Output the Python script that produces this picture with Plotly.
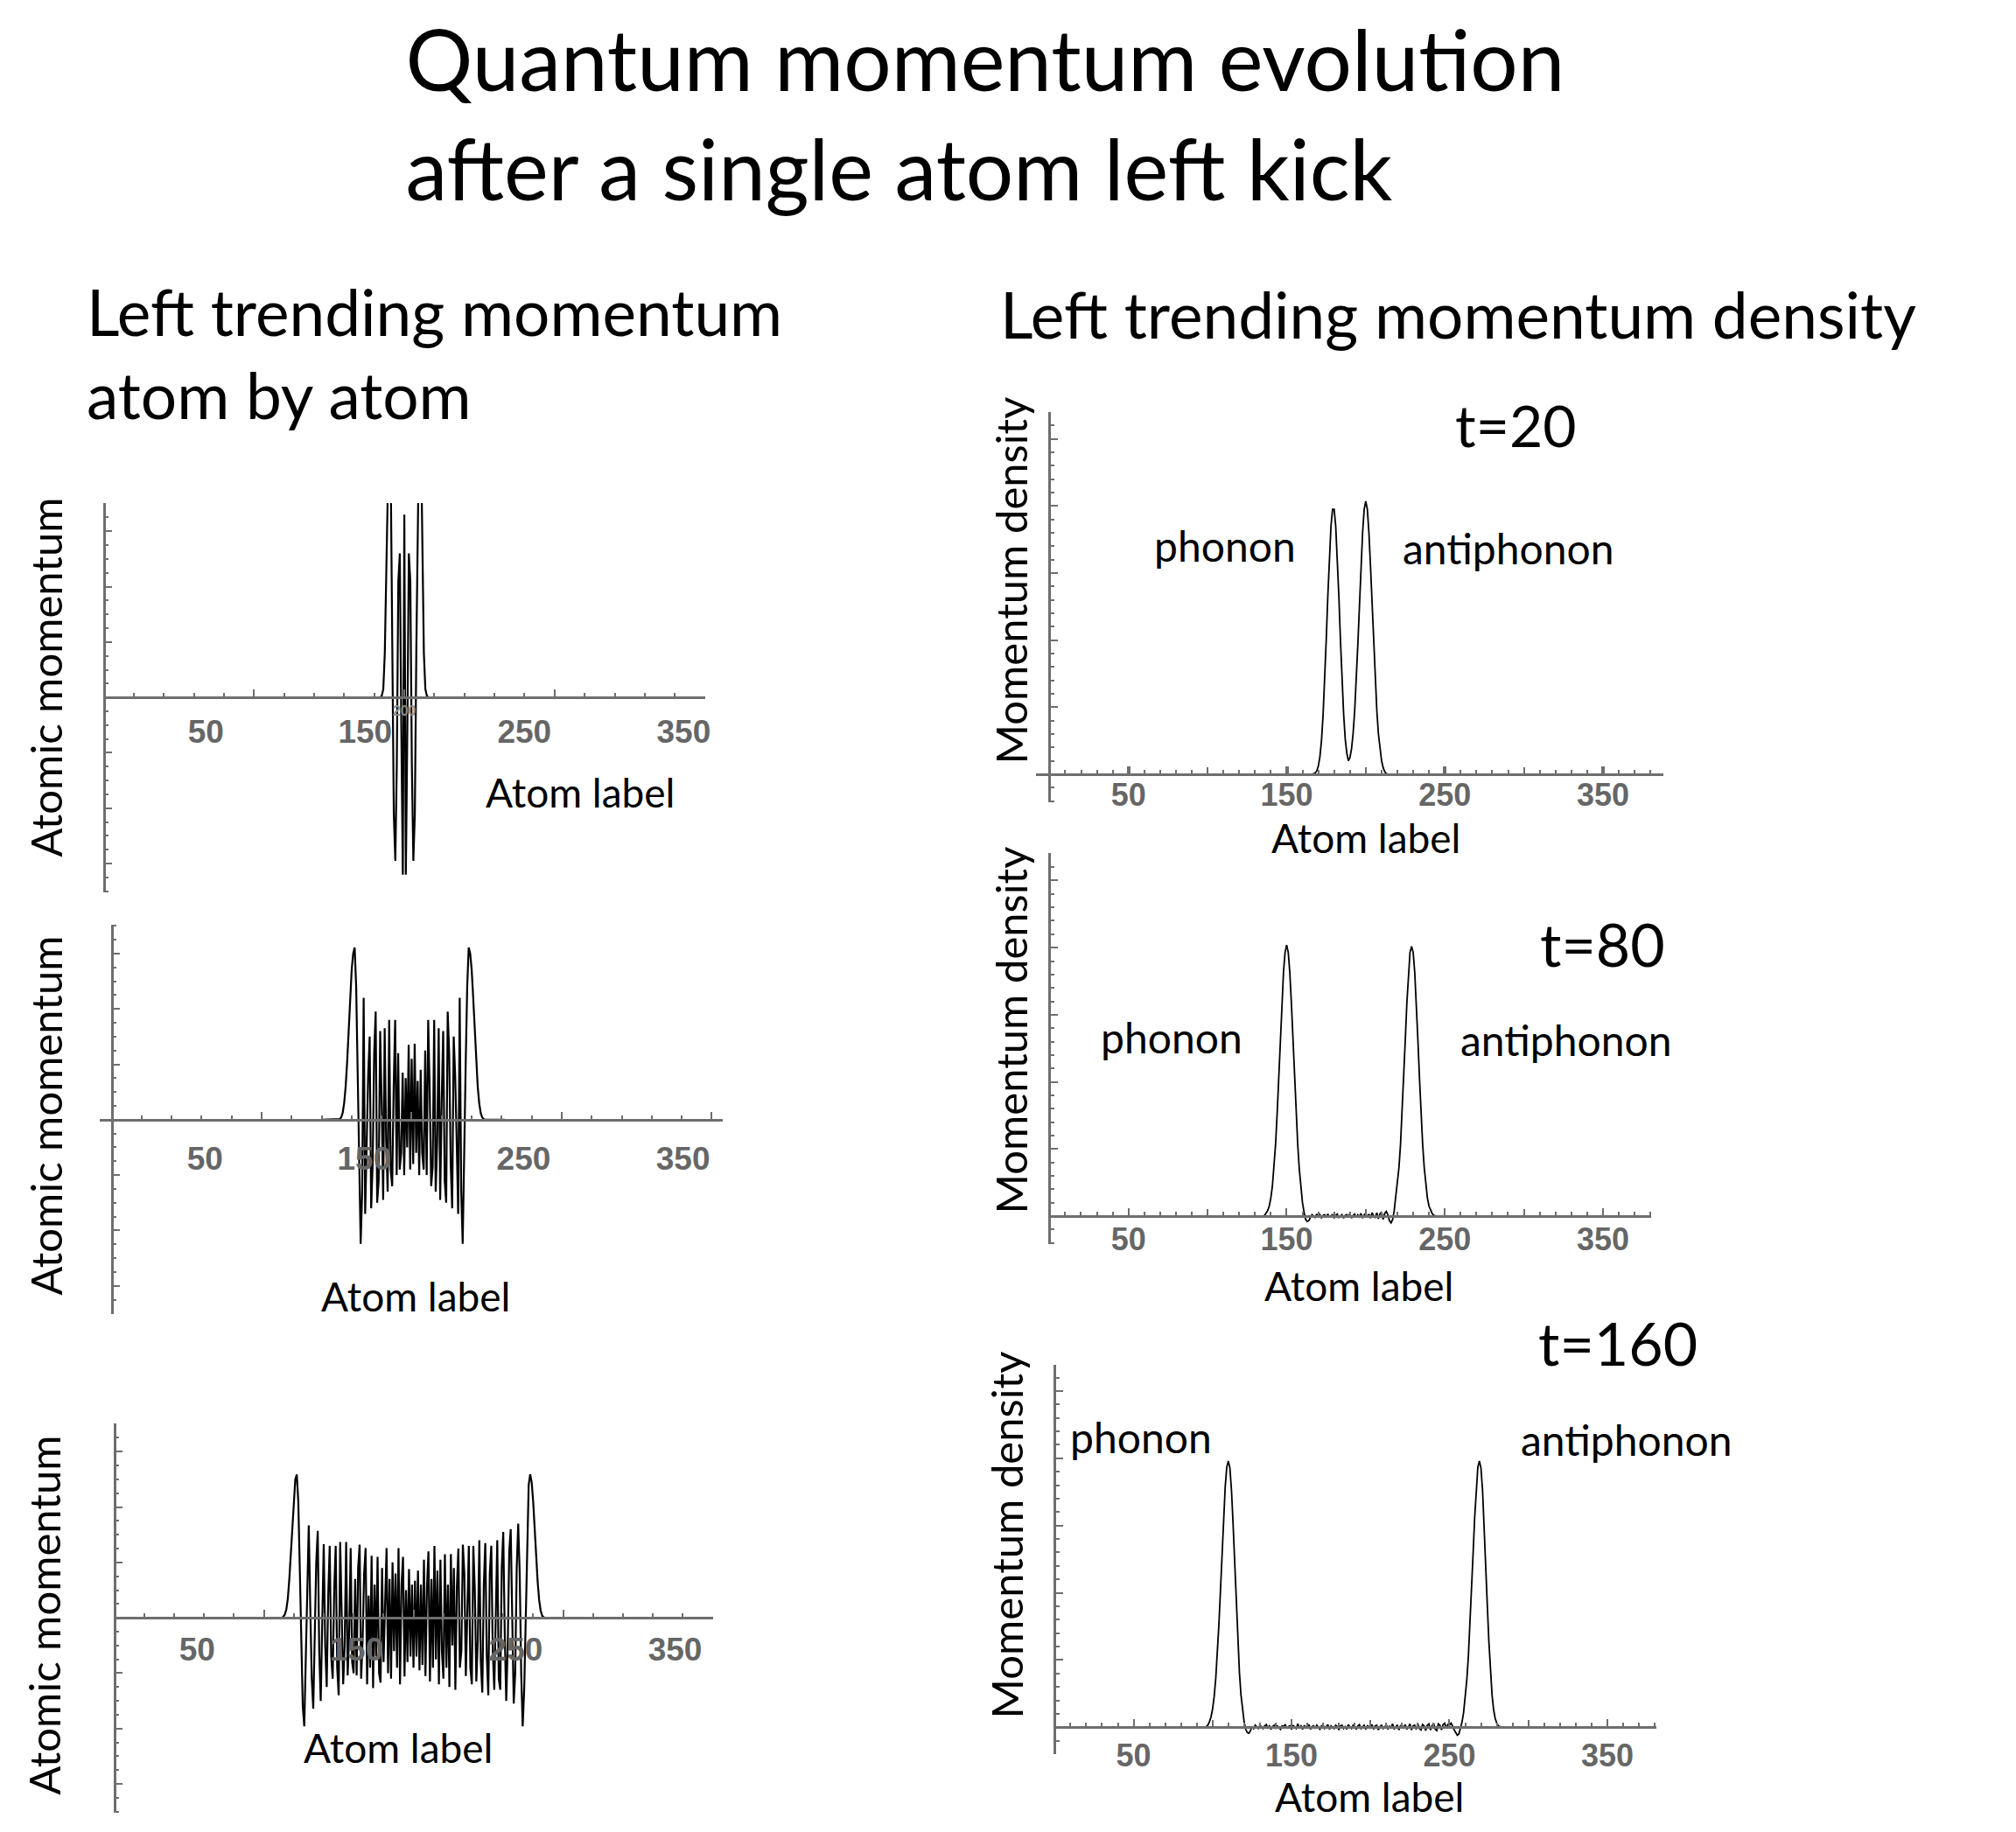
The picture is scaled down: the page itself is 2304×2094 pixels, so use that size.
import plotly.graph_objects as go

W, H = 2304, 2094

# ---------------- data ----------------
tick_values = [50, 150, 250, 350]
tick_labels = ["50", "150", "250", "350"]
chain_first, chain_last = 0, 400

# Left column: atomic momentum atom by atom (first atom index of the listed stretch + values)
momentum_t20_first_atom = 184
momentum_t20 = [0.0, 0.03, 0.15, 0.8, 2.6, 4.8, 5.2, 3.9, 0.9, -2.1,
                -2.95, -1.2, 2.1, 2.6, -0.6, -3.2, 3.3, -3.2, -0.6, 2.6,
                2.1, -1.2, -2.95, -2.1, 0.9, 3.9, 5.2, 4.8, 2.6, 0.8,
                0.15, 0.03, 0.0]

momentum_t80_first_atom = 150
momentum_t80 = [0.0, 0.0, 0.01, 0.04, 0.12, 0.3, 0.6, 1.05, 1.6, 2.2,
                2.7, 3.0, 3.11, 2.4, 1.0, -0.9, -2.24, -1.3, 2.2, -1.7,
                -0.4, 0.8, 1.5, -1.6, -0.8, 1.2, 1.95, -1.5, -1.1, 1.6,
                0.3, -1.45, 1.65, -0.4, -1.3, 1.8, -0.9, -1.2, 0.6, 1.8,
                -1.0, 1.2, -0.9, -0.6, 0.85, -1.0, 0.75, -0.5, 1.35, -0.9,
                1.1,
                -0.8, 1.37, -0.6, 0.7, -1.0, 0.9, -0.6, -0.9, 1.25, -1.0,
                1.8, 0.55, -1.2, -0.85, 1.8, -1.3, -0.4, 1.65, -1.45, 0.35,
                1.6, -1.1, -1.5, 1.95, 1.2, -0.8, -1.6, 1.5, 0.8, -0.4,
                -1.7, 2.2, -1.3, -2.24, -0.9, 1.0, 2.4, 3.11, 3.0, 2.7,
                2.2, 1.6, 1.05, 0.6, 0.3, 0.12, 0.04, 0.01, 0.0, 0.0]

momentum_t160_first_atom = 110
momentum_t160 = [0.0, 0.0, 0.0, 0.02, 0.06, 0.15, 0.35, 0.7, 1.15, 1.7,
                 2.2, 2.5, 2.59, 2.1, 0.9, -0.6, -1.6, -1.96, -0.9, 0.6,
                 1.67, 0.2, -1.1, -1.64, -0.3, 1.0, 1.57, -0.6, -1.5, 0.2,
                 1.33, -0.5, -1.25, 0.4, 1.3, -0.7, -1.1, 0.5, 1.3, -0.9,
                 -1.4, 1.37, 0.3, -1.2, -0.5, 1.37, -1.04, -0.3, 1.26, -0.8,
                 -1.0, 0.7, -1.04, 0.9, 1.32, -1.1, -0.4, 0.8, 1.26, -1.2,
                 0.4, -0.9, 1.12, -1.27, 0.6, -0.7, 1.1, -1.0, -1.17, 0.9,
                 -0.8, 0.5, 1.26, -1.0, 0.7, -1.1, 1.0, -0.6, 0.8, -0.9,
                 1.26, -1.2, 0.6, 1.1, -1.06, 0.5, -0.8, 0.88, -0.7, 0.6,
                 -0.9, 0.67, -0.7, 0.85, -0.95, 0.6, -0.85, 1.05, -1.05, 0.55,
                 1.2, -1.15, 0.7, -0.9, 1.3, -0.75, 0.85, -1.2, 1.05, -0.6,
                 -1.1, 1.15, -0.9, 0.6, -1.25, 1.15, -0.5, 0.9, -1.3, 0.55,
                 1.25, -0.9, -0.6, 1.32, 0.8, -1.05, 0.4, 1.3, -0.9, -1.2,
                 1.3, 0.5, -1.15, -0.4, 1.4, -0.8, -1.35, 0.6, 1.35, -0.7,
                 -1.4, 0.8, 1.3, -0.6, -1.3, 0.4, 1.4, -1.1, -1.3, 0.9,
                 1.55, -0.3, -1.5, -0.5, 1.2, 1.6, -0.4, -1.55, -1.0, 0.9,
                 1.7, 0.8, -1.0, -1.96, -1.3, 0.1, 1.5, 2.4, 2.59, 2.45,
                 2.1, 1.6, 1.1, 0.65, 0.32, 0.13, 0.04, 0.01, 0.0, 0.0, 0.0]

# Right column: momentum density
density_t20_first_atom = 165
density_t20 = [0.0, 0.0, 0.01, 0.02, 0.05, 0.12, 0.26, 0.5, 0.88, 1.38,
               2.0, 2.65, 3.25, 3.7, 3.95, 3.95, 3.7, 3.25, 2.65, 2.0,
               1.38, 0.9, 0.53, 0.32, 0.2, 0.25, 0.38, 0.61, 0.95, 1.4,
               1.94, 2.5, 3.1, 3.6, 3.95, 4.07, 3.95, 3.6, 3.1, 2.5,
               1.94, 1.4, 0.95, 0.6, 0.36, 0.2, 0.1, 0.04, 0.01, 0.0, 0.0]

density_t80_first_atom = 134
density_t80 = [0.0, 0.0, 0.01, 0.04, 0.08, 0.15, 0.27, 0.45, 0.72, 1.07,
               1.53, 2.05, 2.62, 3.17, 3.63, 3.93, 4.04, 3.93, 3.63, 3.17,
               2.62, 2.05, 1.53, 1.07, 0.7, 0.42, 0.2, 0.06, -0.05, -0.08,
               -0.07, -0.02, 0.02, 0.0, -0.02, 0.03, -0.01, 0.02, -0.03, 0.01,
               0.02, -0.02, 0.03, -0.01, 0.0, 0.02, -0.03, 0.01, 0.03, -0.02,
               0.0, 0.02, -0.03, 0.01, 0.02, -0.02, 0.04, -0.03, 0.01, 0.03,
               -0.02, 0.02, -0.01, 0.04, -0.03, 0.02, 0.04, -0.02, 0.03, -0.03,
               0.05, 0.0, -0.02, 0.05, -0.04, 0.03, 0.06, -0.05, 0.04, 0.07,
               0.02, -0.07, -0.1, -0.05, 0.08, 0.27, 0.45, 0.72, 1.07, 1.53,
               2.05, 2.62, 3.17, 3.63, 3.93, 4.02, 3.93, 3.63, 3.17, 2.62,
               2.05, 1.53, 1.07, 0.72, 0.45, 0.27, 0.15, 0.08, 0.04, 0.01,
               0.0, 0.0]

density_t160_first_atom = 94
density_t160 = [0.0, 0.0, 0.01, 0.03, 0.08, 0.15, 0.27, 0.45, 0.72, 1.07,
                1.52, 2.03, 2.58, 3.12, 3.57, 3.87, 3.96, 3.85, 3.52, 3.02,
                2.42, 1.82, 1.27, 0.82, 0.48, 0.24, 0.08, -0.03, -0.08, -0.09,
                -0.05, 0.01, -0.02, 0.03,
                0.0, -0.02, 0.03, 0.01, -0.02, 0.02, 0.04, -0.01, 0.02, -0.03,
                0.01, 0.03, -0.02, 0.02, 0.0, -0.03, 0.02, 0.01, 0.04, -0.02,
                0.01, 0.02, -0.03, 0.03, 0.0, -0.02, 0.05, -0.01, 0.02, -0.03,
                0.02, 0.01, -0.02, 0.04, -0.03, 0.01, 0.02, -0.02, 0.03, 0.0,
                -0.03, 0.02, 0.03, -0.02, 0.01, 0.04, -0.03, 0.02, 0.0, -0.02,
                0.03, 0.01, -0.04, 0.02, 0.03, -0.02, 0.01, -0.03, 0.04, 0.0,
                -0.02, 0.03, 0.01, -0.03, 0.02, 0.04, -0.02, 0.0, 0.03, -0.03,
                0.02, 0.01, -0.02, 0.04, -0.03, 0.02, 0.03, -0.04, 0.01, 0.03,
                -0.02, 0.0, 0.04, -0.03, 0.02, -0.02, 0.05, -0.03, 0.01, 0.03,
                -0.04, 0.02, 0.03, -0.02, 0.04, -0.03, 0.0, 0.05, -0.04, 0.02,
                0.03, -0.03, 0.05, -0.02, -0.04, 0.04, 0.02, -0.05, 0.03, 0.05,
                -0.04, 0.02, 0.06, -0.03, -0.05, 0.05, 0.03, -0.04, 0.04, 0.06,
                -0.02, 0.04,
                0.03, 0.06, 0.02, -0.04, -0.09, -0.12, -0.1, -0.02, 0.08, 0.22,
                0.42, 0.7, 1.05, 1.5, 2.02, 2.58, 3.12, 3.57, 3.87, 3.96,
                3.85, 3.52, 3.02, 2.42, 1.82, 1.27, 0.82, 0.48, 0.26, 0.13,
                0.06, 0.02, 0.01, 0.0]

# ---------------- helpers ----------------
def px(x):
    return x / W


def py(y):
    return 1 - y / H


AX = "#6e6e6e"
LBL = "#666666"
TXT = "Lato"
NUM = "Liberation Sans"


def series(first, vals, pad_to=None):
    xs = list(range(first, first + len(vals)))
    ys = list(vals)
    if pad_to is not None:
        xs = [pad_to[0]] + xs + [pad_to[1]]
        ys = [0.0] + ys + [0.0]
    return xs, ys


fig = go.Figure()
layout = {}

left = [
    dict(n="", ov="7", data=series(momentum_t20_first_atom, momentum_t20, (chain_first, chain_last)),
         dx=(119, 808), rx=(0, 400), ax=119, dy=(575, 1020), zero=797, ry=(-3.52, 3.51),
         lr=(-14.05, 363.3), lsep=14, show200=True),
    dict(n="2", ov="8", data=series(momentum_t80_first_atom, momentum_t80, (140, 262)),
         dx=(114, 829), rx=(-8.1, 407.6), ax=128, dy=(1057, 1502), zero=1280, ry=(-3.51, 3.52),
         lr=(-16.2, 375.2), lsep=19, show200=False),
    dict(n="3", ov="9", data=series(momentum_t160_first_atom, momentum_t160, (chain_first, chain_last)),
         dx=(131, 817), rx=(0, 400), ax=131, dy=(1627, 2072), zero=1849, ry=(-3.52, 3.51),
         lr=(-2.0, 373.6), lsep=11, show200=False),
]

right = [
    dict(n="4", ov="10", data=series(density_t20_first_atom, density_t20, (155, 225)),
         dx=(1188, 1907), rx=(-8.3, 388.3), ax=1203, dy=(471, 917), zero=885, ry=(-0.417, 5.40),
         lsep=-9, thick=3.5),
    dict(n="5", ov="11", data=series(density_t80_first_atom, density_t80, (0, 380)),
         dx=(1203, 1893), rx=(0, 380.6), ax=1203, dy=(975, 1422), zero=1390, ry=(-0.417, 5.41),
         lsep=-6, thick=2.0),
    dict(n="6", ov="12", data=series(density_t160_first_atom, density_t160, (0, 380)),
         dx=(1209, 1899), rx=(0, 381.2), ax=1209, dy=(1560, 2005), zero=1974, ry=(-0.40, 5.39),
         lsep=0, thick=2.0),
]

left_minor_x = [v for v in range(20, 400, 20) if v % 100]
left_minor_y = [k / 4 for k in range(-14, 15) if k % 4]
right_minor_x = [v for v in range(10, 390, 10) if v % 50]
right_minor_y = [k / 5 for k in range(-2, 28) if k % 5]

for p in left:
    xs, ys = p["data"]
    fig.add_trace(go.Scatter(x=xs, y=ys, mode="lines", line=dict(color="black", width=2.2),
                             xaxis="x" + p["n"], yaxis="y" + p["n"], showlegend=False, hoverinfo="skip"))
    fig.add_trace(go.Scatter(x=[None], y=[None], mode="lines", xaxis="x" + p["ov"], yaxis="y" + p["n"],
                             showlegend=False, hoverinfo="skip"))
    layout["xaxis" + p["n"]] = dict(
        domain=[px(p["dx"][0]), px(p["dx"][1])], range=list(p["rx"]), anchor="free", position=py(p["zero"]),
        side="bottom", showline=True, linecolor=AX, linewidth=2.5, showgrid=False, zeroline=False,
        ticks="inside", tickmode="array", tickvals=[100, 200, 300, 400],
        ticktext=["", "200", "", ""], ticklen=8, tickwidth=2, tickcolor=AX,
        showticklabels=p["show200"],
        tickfont=dict(family=NUM, size=16, color="#8c8c8c", weight="bold"),
        minor=dict(ticks="inside", tickmode="array", tickvals=left_minor_x, ticklen=4, tickwidth=1.5, tickcolor=AX),
    )
    layout["xaxis" + p["ov"]] = dict(
        overlaying="x" + p["n"], range=list(p["lr"]), anchor="free", position=py(p["zero"]), side="bottom",
        showline=False, showgrid=False, zeroline=False, ticks="", tickmode="array",
        tickvals=tick_values, ticktext=tick_labels, ticklabelstandoff=p["lsep"],
        tickfont=dict(family=NUM, size=37, color=LBL, weight="bold"),
    )
    layout["yaxis" + p["n"]] = dict(
        domain=[py(p["dy"][1]), py(p["dy"][0])], range=list(p["ry"]), anchor="free", position=px(p["ax"]),
        side="left", showline=True, linecolor=AX, linewidth=2.5, showgrid=False, zeroline=False,
        ticks="inside", tickmode="array", tickvals=[-3, -2, -1, 0, 1, 2, 3], ticklen=8, tickwidth=2,
        tickcolor=AX, showticklabels=False,
        minor=dict(ticks="inside", tickmode="array", tickvals=left_minor_y, ticklen=4, tickwidth=1.5, tickcolor=AX),
    )

for p in right:
    xs, ys = p["data"]
    fig.add_trace(go.Scatter(x=xs, y=ys, mode="lines", line=dict(color="black", width=1.8),
                             xaxis="x" + p["n"], yaxis="y" + p["n"], showlegend=False, hoverinfo="skip"))
    fig.add_trace(go.Scatter(x=[None], y=[None], mode="lines", xaxis="x" + p["ov"], yaxis="y" + p["n"],
                             showlegend=False, hoverinfo="skip"))
    layout["xaxis" + p["n"]] = dict(
        domain=[px(p["dx"][0]), px(p["dx"][1])], range=list(p["rx"]), anchor="free", position=py(p["zero"]),
        side="bottom", showline=True, linecolor=AX, linewidth=2.5, showgrid=False, zeroline=False,
        ticks="inside", tickmode="array", tickvals=tick_values, ticktext=tick_labels, ticklen=8,
        tickwidth=p["thick"], tickcolor=AX, ticklabelstandoff=p["lsep"],
        tickfont=dict(family=NUM, size=36, color=LBL, weight="bold"),
        minor=dict(ticks="inside", tickmode="array", tickvals=right_minor_x, ticklen=4, tickwidth=1.5, tickcolor=AX),
    )
    layout["xaxis" + p["ov"]] = dict(
        overlaying="x" + p["n"], range=list(p["rx"]), anchor="free", position=py(p["zero"]), side="bottom",
        showline=False, showgrid=False, zeroline=False, ticks="inside", tickmode="array",
        tickvals=[100, 200, 300], ticklen=8, tickwidth=1.5, tickcolor=AX, showticklabels=False,
    )
    layout["yaxis" + p["n"]] = dict(
        domain=[py(p["dy"][1]), py(p["dy"][0])], range=list(p["ry"]), anchor="free", position=px(p["ax"]),
        side="left", showline=True, linecolor=AX, linewidth=2.5, showgrid=False, zeroline=False,
        ticks="inside", tickmode="array", tickvals=[0, 1, 2, 3, 4, 5], ticklen=8, tickwidth=2,
        tickcolor=AX, showticklabels=False,
        minor=dict(ticks="inside", tickmode="array", tickvals=right_minor_y, ticklen=4, tickwidth=1.5, tickcolor=AX),
    )


def note(text, x, y, size, xanchor="left", angle=0):
    return dict(text=text, x=px(x), y=py(y), xref="paper", yref="paper", xanchor=xanchor, yanchor="middle",
                textangle=angle, align="left", showarrow=False, font=dict(family=TXT, size=size, color="black"))


annotations = [
    note("Left trending momentum<br>atom by atom", 97, 403, 73),
    note("Left trending momentum density", 1144, 359, 73),
    # axis titles
    note("Atomic momentum", 52, 774, 49, "center", -90),
    note("Atomic momentum", 52, 1275, 49, "center", -90),
    note("Atomic momentum", 50, 1846, 49, "center", -90),
    note("Momentum density", 1159, 663, 49, "center", -90),
    note("Momentum density", 1159, 1177, 49, "center", -90),
    note("Momentum density", 1154, 1754, 49, "center", -90),
    note("Atom label", 665, 905, 46, "center"),
    note("Atom label", 476, 1481, 46, "center"),
    note("Atom label", 456, 1997, 46, "center"),
    note("Atom label", 1566, 957, 46, "center"),
    note("Atom label", 1558, 1469, 46, "center"),
    note("Atom label", 1570, 2053, 46, "center"),
    # panel labels
    note("t=20", 1666, 486, 66),
    note("phonon", 1321, 623, 48),
    note("antiphonon", 1606, 626, 48),
    note("t=80", 1763, 1078, 68),
    note("phonon", 1260, 1185, 48),
    note("antiphonon", 1672, 1188, 48),
    note("t=160", 1761, 1534, 68),
    note("phonon", 1225, 1642, 48),
    note("antiphonon", 1741, 1645, 48),
]

fig.update_layout(
    width=W, height=H, autosize=False,
    margin=dict(l=0, r=0, t=0, b=0, pad=0),
    paper_bgcolor="white", plot_bgcolor="white", showlegend=False,
    title=dict(text="Quantum momentum evolution<br>after a single atom left kick",
               x=px(465), xanchor="left", xref="paper", y=1 - 104 / H, yanchor="top", yref="container",
               font=dict(family=TXT, size=96, color="black")),
    annotations=annotations,
    **layout,
)

fig.write_html("out.html")
